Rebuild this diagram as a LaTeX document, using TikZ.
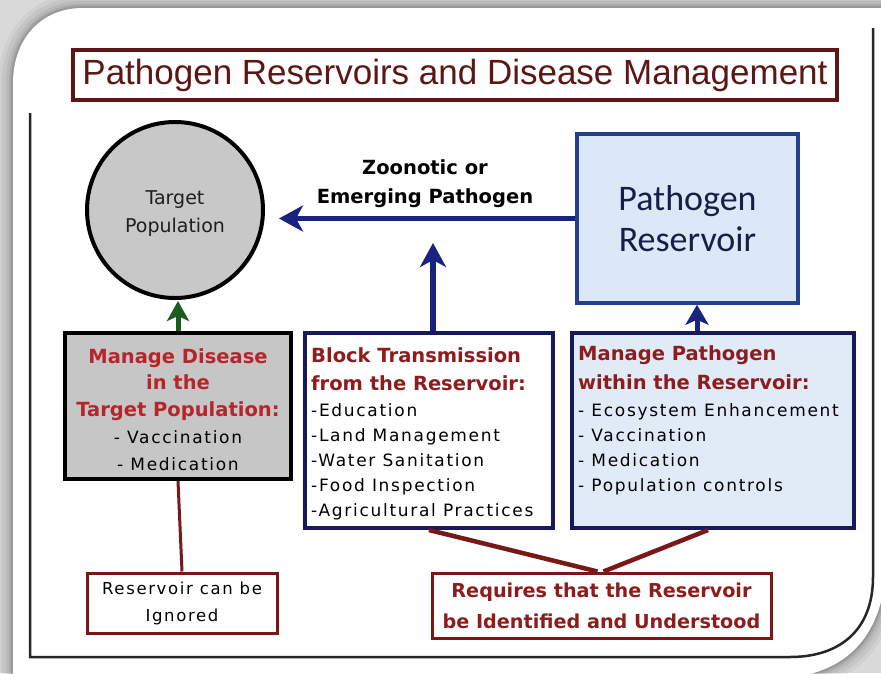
\documentclass[tikz,border=0pt]{standalone}
\usepackage{fontspec}
\setmainfont{Liberation Sans}
\newfontfamily\bodyf{DejaVu Sans}[LetterSpace=10]
\newfontfamily\headf{DejaVu Sans}
\newfontfamily\calf{Carlito}
\newfontfamily\dejf{DejaVu Sans}
\usetikzlibrary{arrows.meta}
\definecolor{bggray}{HTML}{D9D9D9}
\definecolor{titlered}{HTML}{5C1616}
\definecolor{hred}{HTML}{B7242B}
\definecolor{mred}{HTML}{8E1C1C}
\definecolor{conred}{HTML}{7A1818}
\definecolor{navybox}{HTML}{18185C}
\definecolor{navyarr}{HTML}{1A2280}
\definecolor{resborder}{HTML}{24408C}
\definecolor{restext}{HTML}{142048}
\definecolor{resfill}{HTML}{DCE8F7}
\definecolor{mpfill}{HTML}{E1EBF7}
\definecolor{boxgray}{HTML}{C6C6C6}
\definecolor{circgray}{HTML}{C8C8C8}
\definecolor{greenarr}{HTML}{1D5C1F}
\newcommand\hdline[2]{\textcolor{#1}{\headf\bfseries\fontsize{19.5}{26}\selectfont #2}}
\tikzset{
  rectbox/.style={draw, rectangle, inner sep=0pt},
  navyarrow/.style={draw=navyarr, line width=5.5pt, -{Stealth[length=24pt,width=26pt,inset=7pt]}},
  smallnavy/.style={draw=navyarr, line width=5pt, -{Stealth[length=20pt,width=23pt,inset=5pt]}},
  greenarrow/.style={draw=greenarr, line width=5pt, -{Stealth[length=20pt,width=22pt,inset=5pt]}},
  redlink/.style={draw=conred, line width=4.5pt},
  itemtext/.style={inner sep=0pt, align=left, anchor=north west},
}
\begin{document}
\begin{tikzpicture}[x=1pt,y=-1pt]
\useasboundingbox (0,0) rectangle (881,673);
\fill[bggray] (0,0) rectangle (881,673);
% card shadow
\foreach \w/\o in {30/0.04,22/0.05,14/0.06,8/0.08,4/0.10}{
  \draw[line width=\w pt, black, opacity=\o] (13,690) -- (13,83) .. controls (13,40) and (40,8) .. (83,8) -- (886,8) -- (886,560) .. controls (886,630) and (850,678) .. (775,678) -- cycle;
}
\fill[white] (13,690) -- (13,83) .. controls (13,40) and (40,8) .. (83,8) -- (886,8) -- (886,560) .. controls (886,630) and (850,678) .. (775,678) -- cycle;
% inner frame
\draw[line width=2.5pt, black!85] (30,113) -- (30,657) -- (790,657) .. controls (840,657) and (873,630) .. (873,577) -- (873,28);

% title
\node[rectbox, draw=titlered, line width=3.5pt, minimum width=764pt, minimum height=50pt, text=titlered, font=\fontsize{35}{40}\selectfont] (title) at (455,75) {Pathogen Reservoirs and Disease Management};

% target population
\node[circle, draw=black, line width=4pt, fill=circgray, minimum size=176pt, inner sep=0pt] (tp) at (175,210) {};
\node[inner sep=0pt, align=center, text=black!88, font=\dejf\fontsize{19}{28}\selectfont] (tptxt) at (175,214) {Target\\Population};

% pathogen reservoir
\node[rectbox, draw=resborder, line width=3.5pt, fill=resfill, minimum width=221pt, minimum height=169pt, align=center, text=restext, font=\calf\fontsize{36}{41}\selectfont] (res) at (687.5,218.5) {Pathogen\\Reservoir};

% zoonotic label
\node[inner sep=0pt, align=center, font=\headf\bfseries\fontsize{19.5}{29}\selectfont] (zlab) at (425,184) {Zoonotic or\\Emerging Pathogen};

% manage disease box
\node[rectbox, draw=black, line width=4pt, fill=boxgray, minimum width=226pt, minimum height=146pt] (dis) at (178,406) {};
\node[inner sep=0pt, align=center, anchor=north, font=\bodyf\fontsize{17}{26.5}\selectfont] (distxt) at (178,348)
  {\hdline{hred}{Manage Disease}\\
   \hdline{hred}{in the}\\
   \hdline{hred}{Target Population:}\\[1pt]
   - Vaccination\\
   - Medication};

% block transmission box
\node[rectbox, draw=navybox, line width=4pt, fill=white, minimum width=248pt, minimum height=195pt] (blk) at (429,430.5) {};
\node[itemtext, font=\bodyf\fontsize{17}{25}\selectfont] (blktxt) at (311,347.3)
  {\hdline{mred}{Block Transmission}\\[3pt]
   \hdline{mred}{from the Reservoir:}\\[1pt]
   -Education\\
   -Land Management\\
   -Water Sanitation\\
   -Food Inspection\\
   -Agricultural Practices};

% manage pathogen box
\node[rectbox, draw=navybox, line width=4pt, fill=mpfill, minimum width=282pt, minimum height=195pt] (mp) at (713,430.5) {};
\node[itemtext, font=\bodyf\fontsize{17}{25}\selectfont] (mptxt) at (578,345.3)
  {\hdline{mred}{Manage Pathogen}\\[4pt]
   \hdline{mred}{within the Reservoir:}\\[2pt]
   - Ecosystem Enhancement\\
   - Vaccination\\
   - Medication\\
   - Population controls};

% bottom boxes
\node[rectbox, draw=conred, line width=3pt, fill=white, minimum width=190pt, minimum height=60pt, align=center, font=\bodyf\fontsize{16.5}{27}\selectfont] (ign) at (182,603) {Reservoir can be\\Ignored};
\node[rectbox, draw=conred, line width=3pt, fill=white, minimum width=339pt, minimum height=65pt, align=center, text=mred, font=\headf\bfseries\fontsize{19.2}{31}\selectfont] (req) at (601.5,605.5) {Requires that the Reservoir\\be Identified and Understood};

% arrows
\coordinate (zt) at (433,243);
\coordinate (ra) at (697,0);
\draw[navyarrow, shorten >=14pt] (res.west) -- (res.west -| tp.east);
\draw[navyarrow] (blk.north -| zt) -- (zt);
\draw[smallnavy] (ra |- mp.north) -- (ra |- res.south);
\draw[greenarrow, shorten >=1pt] (dis.north) -- (dis.north |- tp.south);

% connectors
\draw[redlink, line width=3pt] (dis.south) -- (ign.north);
\draw[redlink] (blk.south) -- ([xshift=-4pt]req.north);
\draw[redlink] ([xshift=-5pt]mp.south) -- ([xshift=2pt]req.north);
\end{tikzpicture}
\end{document}
